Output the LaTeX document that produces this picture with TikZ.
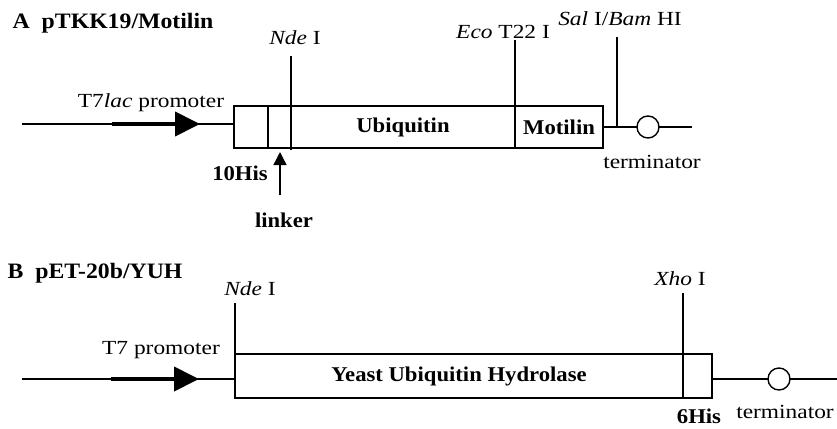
\documentclass[tikz,border=0pt]{standalone}
\usepackage{fontspec}
\setmainfont{Liberation Serif}
\newfontfamily\sitefont{Liberation Serif}[FakeStretch=1.17]
\newfontfamily\partfont{Liberation Serif}[FakeStretch=1.08]
\usepackage{tikz}
\usetikzlibrary{
  arrows.meta,
  positioning
}
\tikzset{
    sitelabel/.style={anchor=base, inner sep=0pt, font=\sitefont\fontsize{20}{22}\selectfont},
    partlabel/.style={anchor=base, inner sep=0pt, font=\partfont\bfseries\fontsize{21}{24}\selectfont},
    paneltitle/.style={anchor=base west, inner sep=0pt, font=\partfont\bfseries\fontsize{22}{26}\selectfont},
    segment/.style={draw, line width=1.4pt, minimum height=42pt, inner sep=0pt, outer sep=0pt, anchor=west,
        font=\partfont\bfseries\fontsize{21}{24}\selectfont},
    promoter/.style={line width=4pt, -{Triangle[length=25pt, width=24pt]}},
    pointer/.style={line width=1.4pt, -{Triangle[length=13pt, width=13pt]}},
    termcircle/.style={draw, circle, line width=1.4pt, minimum size=22pt, inner sep=0pt, outer sep=0pt}
}

\begin{document}
\begin{tikzpicture}[x=1pt, y=-1pt, line width=1.4pt]
    \useasboundingbox (0,0) rectangle (837,428);

    \node[paneltitle] (titleA) at (12,29) {A~~pTKK19/Motilin};
    \node[segment, minimum width=34pt] (his10) at (234,127) {};
    \node[segment, minimum width=23pt, right=0pt of his10] (linkerseg) {};
    \node[segment, minimum width=224pt, right=0pt of linkerseg] (ubq) {Ubiquitin};
    \node[segment, minimum width=88pt, right=0pt of ubq] (motilin) {Motilin};
    \node[termcircle] (termA) at (648,127) {};

    \coordinate (startA) at (22,124);
    \coordinate (endA) at (692,127);
    \draw (startA) -- (startA -| his10.west);
    \draw[promoter] (112,124) -- (200,124);
    \draw (motilin.east) -- (termA.west);
    \draw (termA.east) -- (endA);

    \coordinate (ndeA) at (291,56);
    \coordinate (ecoA) at (515,40);
    \coordinate (salA) at (617,37);
    \draw (ndeA) -- ++(0,94);
    \draw (ecoA) -- (ubq.south east);
    \draw (salA) -- (salA |- motilin.east);

    \node[sitelabel] (ndeAlabel) at (295,45) {\textit{Nde} I};
    \node[sitelabel] (ecoAlabel) at (503,38) {\textit{Eco} T22 I};
    \node[sitelabel] (salAlabel) at (620,26) {\textit{Sal} I/\textit{Bam} HI};
    \node[sitelabel] (promAlabel) at (151,107) {T7\textit{lac} promoter};
    \node[sitelabel] (termAlabel) at (652,168) {terminator};
    \node[partlabel] (his10label) at (240,180) {10His};
    \node[partlabel] (linker) at (284,227) {linker};
    \coordinate (linkerfoot) at (280,195);
    \draw[pointer] (linkerfoot) -- ++(0,-43);

    \node[paneltitle] (titleB) at (7,278) {B~~pET-20b/YUH};
    \node[segment, minimum width=448pt, minimum height=44pt] (yuh) at (235,376) {Yeast Ubiquitin Hydrolase};
    \node[segment, minimum width=29pt, minimum height=44pt, right=0pt of yuh] (his6) {};
    \node[termcircle] (termB) at (779,379) {};

    \coordinate (startB) at (22,379);
    \coordinate (endB) at (837,379);
    \draw (startB) -- (startB -| yuh.west);
    \draw[promoter] (111,379) -- (199,379);
    \draw (his6.east |- termB) -- (termB.west);
    \draw (termB.east) -- (endB);

    \coordinate (ndeB) at (235,303);
    \coordinate (xhoB) at (683,293);
    \draw (ndeB) -- (yuh.north west);
    \draw (xhoB) -- (his6.south west);

    \node[sitelabel] (ndeBlabel) at (250,295) {\textit{Nde} I};
    \node[sitelabel] (xhoBlabel) at (680,285) {\textit{Xho} I};
    \node[sitelabel] (promBlabel) at (161,354) {T7 promoter};
    \node[sitelabel] (termBlabel) at (785,418) {terminator};
    \node[partlabel] (his6label) at (699,423) {6His};
\end{tikzpicture}
\end{document}
